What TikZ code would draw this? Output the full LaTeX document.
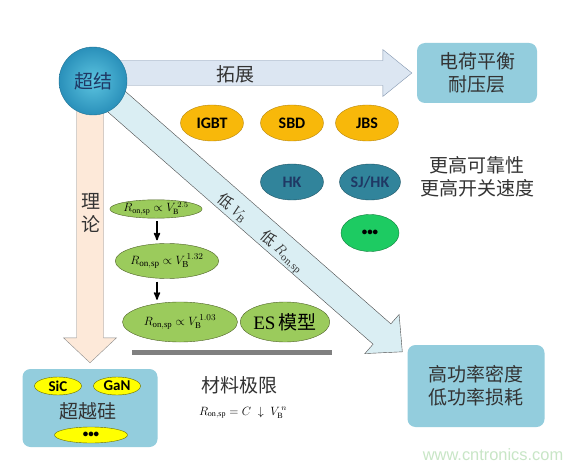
\documentclass[tikz,border=0pt]{standalone}
\usepackage{fontspec}
\setmainfont{Liberation Serif}
\newfontfamily\cjk{Noto Sans CJK SC}
\newfontfamily\devfont{Carlito}
\newfontfamily\wmfont{Liberation Sans}
\usetikzlibrary{shapes.geometric, arrows, calc, backgrounds}
\usetikzlibrary{positioning}

\definecolor{boxblue}{HTML}{93CDDD}
\definecolor{hzfill}{HTML}{DCE6F2}
\definecolor{hzline}{HTML}{8497B0}
\definecolor{vtfill}{HTML}{FDE9D9}
\definecolor{vtline}{HTML}{8C8C8C}
\definecolor{dgfill}{HTML}{DAEEF3}
\definecolor{dgline}{HTML}{4D4D4D}
\definecolor{devorange}{HTML}{F8B80A}
\definecolor{orangeline}{HTML}{B8860B}
\definecolor{devteal}{HTML}{31849B}
\definecolor{tealline}{HTML}{1F5566}
\definecolor{devgreen}{HTML}{1DCB62}
\definecolor{greenline}{HTML}{10803C}
\definecolor{formgreen}{HTML}{9BCB5C}
\definecolor{formline}{HTML}{4F6228}
\definecolor{matyellow}{HTML}{FFFF00}
\definecolor{yellowline}{HTML}{6B6B00}
\definecolor{textgray}{HTML}{333333}
\definecolor{sjdark}{HTML}{1F3864}
\definecolor{hubin}{HTML}{5CC4E0}
\definecolor{hubout}{HTML}{2A90BA}
\definecolor{wmgreen}{HTML}{C8E6C6}

\tikzset{
    infobox/.style={
           rectangle,
           rounded corners=8pt,
           fill=boxblue,
           text=textgray,
           align=center,
           font=\cjk\fontsize{19}{23}\selectfont,
           },
    hub/.style={
           circle,
           minimum size=68pt,
           inner color=hubin,
           outer color=hubout,
           draw=hubout!80!black, thin,
           text=sjdark,
           font=\cjk\fontsize{19}{23}\selectfont,
           },
    dev/.style={
           ellipse,
           draw=orangeline,
           fill=devorange,
           minimum width=63pt,
           minimum height=36pt,
           inner sep=0pt,
           font=\devfont\bfseries\fontsize{16}{18}\selectfont,
           },
    formula/.style={
           ellipse,
           draw=formline,
           fill=formgreen,
           inner sep=0pt,
           },
    material/.style={
           ellipse,
           draw=yellowline,
           fill=matyellow,
           inner sep=0pt,
           minimum height=18pt,
           font=\devfont\bfseries\fontsize{15}{17}\selectfont,
           },
    label/.style={
           text=textgray,
           align=center,
           font=\cjk\fontsize{19}{23}\selectfont,
           },
}

% fat arrow: style, start, tip, half shaft, half head, head length
\newcommand{\fatarrow}[6]{%
  \coordinate (fa-s) at #2;
  \coordinate (fa-t) at #3;
  \coordinate (fa-b) at ($(fa-t)!#6!(fa-s)$);
  \draw[#1] ($(fa-s)!#4!90:(fa-t)$) -- ($(fa-b)!#4!90:(fa-t)$)
    -- ($(fa-b)!#5!90:(fa-t)$) -- (fa-t) -- ($(fa-b)!#5!-90:(fa-t)$)
    -- ($(fa-b)!#4!-90:(fa-t)$) -- ($(fa-s)!#4!-90:(fa-t)$) -- cycle;
}

\begin{document}
\begin{tikzpicture}[x=1pt,y=-1pt,>=stealth']

   % the three goals
   \node[infobox, minimum width=120pt, minimum height=60pt] (charge) at (477,73) {电荷平衡\\耐压层};
   \node[infobox, minimum width=137pt, minimum height=82pt] (power) at (476,386) {高功率密度\\低功率损耗};
   \node[infobox, minimum width=135pt, minimum height=78pt] (beyond) at (90,408) {};

   \node[hub] (sj) at (93,81) {超结};

   % devices
   \node[dev] (igbt) at (212,123) {IGBT};
   \node[dev, right of=igbt, node distance=80pt] (sbd) {SBD};
   \node[dev, right of=sbd, node distance=75pt] (jbs) {JBS};
   \node[dev, fill=devteal, draw=tealline, text=sjdark, below of=sbd, node distance=59pt] (hk) {HK};
   \node[dev, fill=devteal, draw=tealline, text=sjdark, minimum width=61pt,
    below of=jbs, node distance=59pt, xshift=3pt] (sjhk) {SJ/HK};
   \node[dev, fill=devgreen, draw=greenline, minimum width=58pt, minimum height=37pt,
    font=\devfont\bfseries\fontsize{11}{13}\selectfont,
    below of=sjhk, node distance=51pt] (devmore) {•••};

   \node[label] (reliab) at (477,177) {更高可靠性\\更高开关速度};

   % theory chain
   \node[formula, minimum width=73pt, minimum height=18pt, font=\fontsize{11.5}{13}\selectfont]
    (f1) at (156,209) {$R_{\mathrm{on,sp}}\propto V_{\mathrm{B}}^{\,2.5}$};
   \node[formula, minimum width=90pt, minimum height=35pt, font=\fontsize{13}{15}\selectfont]
    (f2) at (167,261) {$R_{\mathrm{on,sp}}\propto V_{\mathrm{B}}^{\,1.32}$};
   \node[formula, minimum width=115pt, minimum height=40pt, font=\fontsize{12.5}{14}\selectfont]
    (f3) at (180,322) {$R_{\mathrm{on,sp}}\propto V_{\mathrm{B}}^{\,1.03}$};
   \node[formula, minimum width=84pt, minimum height=40pt, font=\fontsize{19}{23}\selectfont]
    (es) at (285,322) {ES\,{\cjk 模型}};

   \draw[->, line width=1.6pt, shorten <=3pt, shorten >=3pt] (f1.south -| 157,0) -- (f2.north -| 157,0);
   \draw[->, line width=1.6pt, shorten <=3pt, shorten >=2pt] (f2.south -| 157,0) -- (f3.north -| 157,0);

   \coordinate (limA) at (132,352.5);
   \coordinate (limB) at (332,352.5);
   \draw[line width=5pt, gray] (limA) -- (limB);

   \node[label] (limit) at (239,385) {材料极限};
   \node[font=\fontsize{11.5}{13}\selectfont, below=6pt of limit, xshift=4pt] (limform)
    {$R_{\mathrm{on,sp}} = C\;\downarrow\;V_{\mathrm{B}}^{\,n}$};

   % beyond silicon
   \node[material, minimum width=47pt] (sic) at (58,386) {SiC};
   \node[material, minimum width=47pt, right of=sic, node distance=59pt] (gan) {GaN};
   \node[label, text=textgray] (beyondtext) at (88,411) {超越硅};
   \node[material, minimum width=73pt, minimum height=16pt,
    font=\devfont\bfseries\fontsize{11}{13}\selectfont] (matmore) at (91,435) {•••};

   \node[font=\wmfont\fontsize{16.4}{18}\selectfont, text=wmgreen] (wm) at (493,455) {www.cntronics.com};

   % the big arrows
   \begin{scope}[on background layer]
     \fill[white] (0,0) rectangle (580,470);
     \fatarrow{fill=hzfill, draw=hzline}{(sj.center |- charge.west)}{([xshift=-5pt]charge.west)}{12.5pt}{23.5pt}{29pt}
     \fatarrow{fill=vtfill, draw=vtline}{(sj.center -| beyond.north)}{([yshift=6pt]beyond.north)}{13.5pt}{26.5pt}{25pt}
     \fatarrow{fill=dgfill, draw=dgline}{(sj.center)}{([xshift=-5pt,yshift=-7pt]power.north west)}{13.5pt}{26pt}{27pt}
   \end{scope}

   \node[label] (expand) at (235,74) {拓展};
   \node[label] (theory) at (91,213) {理\\论};
   \node[font=\cjk\fontsize{15}{17}\selectfont, text=textgray, rotate=-41] (lowvb) at (233,208) {低 $V_{\mathrm{B}}$};
   \node[font=\cjk\fontsize{15}{17}\selectfont, text=textgray, rotate=-41] (lowr) at (282,252) {低 $R_{\mathrm{on,sp}}$};

\end{tikzpicture}
\end{document}
